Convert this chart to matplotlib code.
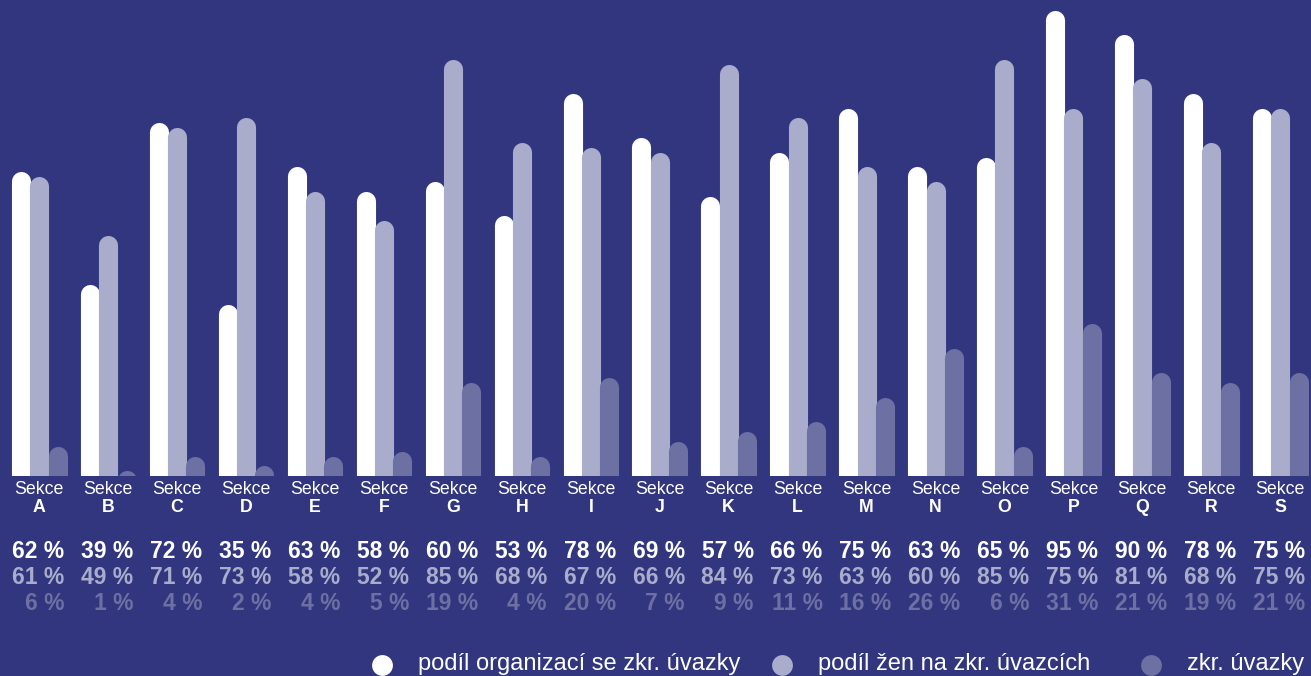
"""Podíl zkrácených úvazků podle sekcí CZ-NACE – sloupcový graf se zaoblenými sloupci."""

import matplotlib

matplotlib.use("Agg")

import matplotlib.pyplot as plt  # noqa: E402
import numpy as np  # noqa: E402
from matplotlib.lines import Line2D  # noqa: E402
from matplotlib.transforms import blended_transform_factory  # noqa: E402

# Data
sections = ["A", "B", "C", "D", "E", "F", "G", "H", "I", "J",
            "K", "L", "M", "N", "O", "P", "Q", "R", "S"]
org_share = [62, 39, 72, 35, 63, 58, 60, 53, 78, 69, 57, 66, 75, 63, 65, 95, 90, 78, 75]
women_share = [61, 49, 71, 73, 58, 52, 85, 68, 67, 66, 84, 73, 63, 60, 85, 75, 81, 68, 75]
part_time = [6, 1, 4, 2, 4, 5, 19, 4, 20, 7, 9, 11, 16, 26, 6, 31, 21, 19, 21]
series_labels = ["podíl organizací se zkr. úvazky",
                 "podíl žen na zkr. úvazcích",
                 "zkr. úvazky"]

BG = "#31367f"
COLORS = ["#ffffff", "#a9adcb", "#6c70a3"]

plt.rcParams["font.family"] = ["Liberation Sans", "DejaVu Sans"]

W, H, DPI = 1311, 676, 100
fig = plt.figure(figsize=(W / DPI, H / DPI), dpi=DPI, facecolor=BG)

# Osa: spodní hrana = základna sloupců (y=476 px), 1 % ~ 4.9 px
base_px = 476
px_per_pct = 4.9
pitch_px = 68.94
first_px = 21.0
ax = fig.add_axes([0, (H - base_px) / H, 1, base_px / H])
ax.set_facecolor(BG)
ax.set_xlim(-first_px / pitch_px, (W - first_px) / pitch_px)
ax.set_ylim(0, base_px / px_per_pct)
ax.axis("off")

bar_px = 18.3
lw_pt = (bar_px + 0.8) * 72 / DPI  # lehký přesah, ať mezi sloupci nezůstane spára
r_data = (bar_px / 2) / px_per_pct
offset = bar_px / pitch_px

x = np.arange(len(sections))
for k, (vals, color) in enumerate(zip([org_share, women_share, part_time], COLORS)):
    for xi, v in zip(x, vals):
        xx = xi + k * offset
        ax.plot([xx, xx], [-r_data - 2, v - r_data], color=color, lw=lw_pt,
                solid_capstyle="round", clip_on=True)

# Popisky pod sloupci
trans = blended_transform_factory(ax.transData, fig.transFigure)
right_off = 25 / pitch_px
for xi, sec, a, b, c in zip(x, sections, org_share, women_share, part_time):
    xc = xi + offset
    ax.text(xc, 1 - 490 / H, "Sekce", transform=trans, ha="center", va="center",
            color="white", fontsize=12.8)
    ax.text(xc, 1 - 507 / H, sec, transform=trans, ha="center", va="center",
            color="white", fontsize=12.8, fontweight="bold")
    xr = xc + right_off
    for yy, val, col in [(551, a, COLORS[0]), (577, b, COLORS[1]), (603, c, COLORS[2])]:
        ax.text(xr, 1 - yy / H, f"{val} %", transform=trans, ha="right", va="center",
                color=col, fontsize=16.5, fontweight="bold")

# Legenda
legend_pos = [(382, 418), (782, 818), (1151, 1187)]
for (cx, tx), label, col in zip(legend_pos, series_labels, COLORS):
    fig.add_artist(Line2D([cx / W], [1 - 665 / H], transform=fig.transFigure,
                          marker="o", markersize=15, markeredgewidth=0,
                          color=col, linestyle="none"))
    fig.text(tx / W, 1 - 664 / H, label, ha="left", va="center",
             color="white", fontsize=17)

fig.savefig("out.png", dpi=DPI, facecolor=BG)
